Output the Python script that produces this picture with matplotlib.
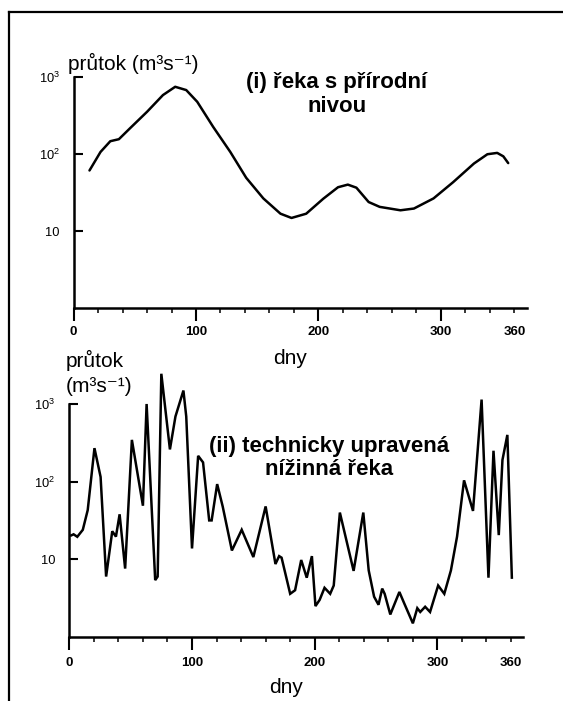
import matplotlib
matplotlib.use("Agg")
import matplotlib.pyplot as plt
from matplotlib.lines import Line2D
from matplotlib.ticker import FixedLocator, FixedFormatter, NullLocator

plt.rcParams['font.family'] = ['Liberation Sans', 'DejaVu Sans']
plt.rcParams['mathtext.fontset'] = 'custom'
plt.rcParams['mathtext.rm'] = 'Liberation Sans'
plt.rcParams['mathtext.it'] = 'Liberation Sans:italic'
plt.rcParams['mathtext.bf'] = 'Liberation Sans:bold'

# ---- data: (i) river with natural floodplain ----
days_natural = [13, 22, 30, 37, 46, 60, 73, 83, 92, 101, 114, 128, 141, 155,
                169, 178, 190, 204, 216, 224, 231, 241, 250, 267, 278, 294,
                310, 327, 338, 346, 351, 355]
flow_natural = [61, 106, 146, 155, 214, 351, 578, 740, 671, 473, 224, 106, 49,
                26.5, 16.8, 14.8, 16.8, 26.3, 37, 40, 36.5, 23.8, 20.6, 18.6,
                19.6, 26.5, 43, 75, 99, 103, 93, 76]

# ---- data: (ii) channelised lowland river ----
days_channel = [0.6, 3.5, 6.5, 11, 15, 20.5, 25.5, 30, 35, 38, 41, 45.5, 51,
                60, 63, 70, 72, 75, 82, 86.5, 93, 95.3, 100, 105, 109, 114,
                116, 120.5, 125, 132.5, 140.5, 150, 160, 168, 171, 173, 180,
                184, 189, 193.5, 197.7, 200.6, 204, 208, 212.6, 215.5, 220.5,
                231.7, 239.6, 244, 248.4, 252, 255, 257, 261.6, 269, 273, 280,
                283.6, 286, 290, 294, 300.6, 305.6, 311, 316, 321.7, 329, 336,
                341.6, 345.7, 350, 353, 357, 360.7]
flow_channel = [20, 21, 19.5, 24, 43, 270, 115, 6, 23, 19.6, 38, 7.6, 345,
                49, 1000, 5.4, 6, 2450, 260, 690, 1490, 690, 13.8, 215, 177,
                31.7, 31.7, 93, 48, 13, 24, 10.7, 48, 8.7, 11, 10.5, 3.6,
                4, 9.8, 5.8, 11, 2.5, 3, 4.3, 3.6, 4.6, 40,
                7.1, 40, 7.2, 3.3, 2.6, 4.2, 3.6, 1.95, 3.8, 2.7, 1.5,
                2.35, 2.1, 2.45, 2.1, 4.6, 3.6, 7.2, 19.6, 104, 42, 1140,
                5.8, 250, 20.5, 190, 400, 5.6]

xticks_major = [0, 100, 200, 300]
xticks_minor = [20, 40, 60, 80, 120, 140, 160, 180, 220, 240, 260, 280, 320, 340, 360]
minor_labels = ['' if v != 360 else '360' for v in xticks_minor]
yticks = [10, 100, 1000]
ytick_labels = ['10', r'10$^2$', r'10$^3$']

W, H = 563, 701
fig = plt.figure(figsize=(W / 100, H / 100), dpi=100)
fig.patch.set_facecolor('white')


def fx(px):
    return px / W


def fy(py):
    return 1 - py / H


# frame lines (top and left)
fig.add_artist(Line2D([fx(9), 1.0], [fy(12), fy(12)], color='black', lw=1.6,
                      transform=fig.transFigure))
fig.add_artist(Line2D([fx(9), fx(9)], [fy(12), 0.0], color='black', lw=1.6,
                      transform=fig.transFigure))


def style_axes(ax, xpad):
    ax.set_yscale('log')
    ax.set_xlim(0, 370)
    ax.set_ylim(1, 1000)
    for s in ('top', 'right'):
        ax.spines[s].set_visible(False)
    for s in ('left', 'bottom'):
        ax.spines[s].set_linewidth(1.8)
    ax.xaxis.set_major_locator(FixedLocator(xticks_major))
    ax.xaxis.set_major_formatter(FixedFormatter([str(v) for v in xticks_major]))
    ax.xaxis.set_minor_locator(FixedLocator(xticks_minor))
    ax.xaxis.set_minor_formatter(FixedFormatter(minor_labels))
    ax.tick_params(axis='x', which='major', direction='out', length=9.4,
                   width=1.5, pad=xpad, labelsize=9.5)
    ax.tick_params(axis='x', which='minor', direction='out', length=3.6,
                   width=1.1, pad=xpad + 5.8, labelsize=9.5)
    for lab in ax.get_xticklabels(which='both'):
        lab.set_fontweight('bold')
    ax.yaxis.set_major_locator(FixedLocator(yticks))
    ax.yaxis.set_major_formatter(FixedFormatter(ytick_labels))
    ax.yaxis.set_minor_locator(NullLocator())
    ax.tick_params(axis='y', which='major', direction='in', length=6.5,
                   width=1.5, pad=10, labelsize=9.3)
    ax.patch.set_alpha(0)


# ---- top panel ----
ax1 = fig.add_axes([0.1307, 0.5602, 0.8046, 0.3304])
style_axes(ax1, 3.0)
ax1.plot(days_natural, flow_natural, color='black', lw=1.8,
         solid_joinstyle='round', solid_capstyle='round')

# ---- bottom panel ----
ax2 = fig.add_axes([0.1231, 0.0913, 0.8064, 0.3324])
style_axes(ax2, 5.0)
ax2.plot(days_channel, flow_channel, color='black', lw=1.8, clip_on=False,
         solid_joinstyle='miter', solid_capstyle='butt')

# ---- texts ----
fig.text(fx(68), fy(70), 'průtok (m³s⁻¹)', fontsize=15,
         ha='left', va='baseline')
fig.text(fx(337), fy(88), '(i) řeka s přírodní', fontsize=16,
         fontweight='bold', ha='center', va='baseline')
fig.text(fx(337), fy(112), 'nivou', fontsize=16, fontweight='bold',
         ha='center', va='baseline')
fig.text(fx(290), fy(364), 'dny', fontsize=15, ha='center', va='baseline')

fig.text(fx(66), fy(367), 'průtok', fontsize=15, ha='left', va='baseline')
fig.text(fx(66), fy(392), '(m³s⁻¹)', fontsize=15, ha='left',
         va='baseline')
fig.text(fx(329), fy(452), '(ii) technicky upravená', fontsize=16,
         fontweight='bold', ha='center', va='baseline')
fig.text(fx(329), fy(475), 'nížinná řeka', fontsize=16, fontweight='bold',
         ha='center', va='baseline')
fig.text(fx(286), fy(693), 'dny', fontsize=15, ha='center', va='baseline')

fig.savefig('out.png', dpi=100, facecolor='white')
